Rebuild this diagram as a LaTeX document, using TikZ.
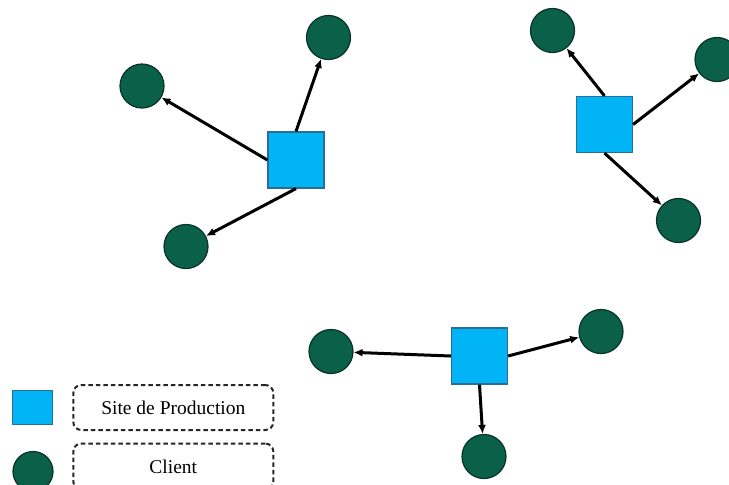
\documentclass[tikz,border=0pt]{standalone}
\usepackage{fontspec}
\setmainfont{Liberation Serif}
\usetikzlibrary{arrows.meta}
\definecolor{sitefill}{HTML}{00B4F5}
\definecolor{sitedraw}{HTML}{2A6E96}
\definecolor{clientfill}{HTML}{0B604A}
\definecolor{clientdraw}{HTML}{063326}
\begin{document}
\begin{tikzpicture}[x=1pt,y=-1pt,
  site/.style={draw=sitedraw,fill=sitefill,line width=1.2pt,minimum width=56pt,minimum height=56pt,inner sep=0pt},
  client/.style={circle,draw=clientdraw,fill=clientfill,line width=1.2pt,minimum size=44pt,inner sep=0pt},
  flow/.style={line width=3pt,-{Latex[length=9pt,width=8pt]}},
  legbox/.style={draw=black!85,dash pattern=on 4.5pt off 3pt,line width=2pt,rounded corners=8pt,minimum width=200pt,minimum height=45pt,font=\fontsize{19.5}{23}\selectfont}
]
\useasboundingbox (0,0) rectangle (729,485);
% group 1
\node[site] (s1) at (296,160) {};
\node[client] (c11) at (328.5,37.5) {};
\node[client] (c12) at (142,86) {};
\node[client] (c13) at (186,246.5) {};
\draw[flow] (s1.north) -- (c11);
\draw[flow] (s1.west) -- (c12);
\draw[flow] (s1.south) -- (c13);
% group 2
\node[site] (s2) at (604.5,124.5) {};
\node[client] (c21) at (552.5,30.5) {};
\node[client] (c22) at (717,59.5) {};
\node[client] (c23) at (678.5,220.5) {};
\draw[flow] (s2.north) -- (c21);
\draw[flow] (s2.east) -- (c22);
\draw[flow] (s2.south) -- (c23);
% group 3
\node[site] (s3) at (479.5,356) {};
\node[client] (c31) at (331,351.5) {};
\node[client] (c32) at (601,331.5) {};
\node[client] (c33) at (484,456.5) {};
\draw[flow] (s3.west) -- (c31);
\draw[flow] (s3.east) -- (c32);
\draw[flow] (s3.south) -- (c33);
% legend
\node[site,minimum width=40pt,minimum height=34pt] (lsite) at (32.7,407.5) {};
\node[client,minimum size=40pt] (lclient) at (33,471.5) {};
\node[legbox] (lsitetext) at (173.3,407.5) {Site de Production};
\node[legbox,minimum height=46pt] (lclienttext) at (173.3,466.5) {Client};
\end{tikzpicture}
\end{document}
